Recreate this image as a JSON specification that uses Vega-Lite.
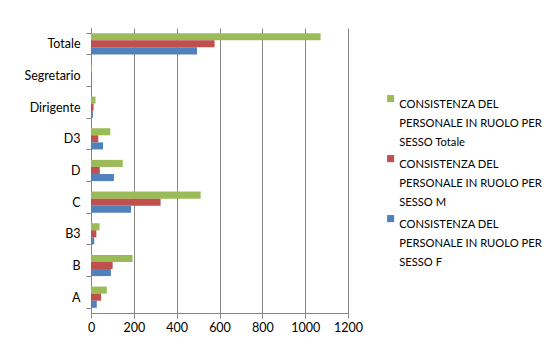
{
  "$schema": "https://vega.github.io/schema/vega-lite/v6.json",
  "autosize": "none",
  "width": 257,
  "height": 285,
  "padding": {"left": 91, "top": 28, "right": 204, "bottom": 29},
  "background": "white",
  "config": {
    "font": "Lato",
    "view": {"stroke": null}
  },
  "data": {
    "values": [
      {"categoria": "Totale", "serie": "CONSISTENZA DEL|PERSONALE IN RUOLO PER|SESSO Totale", "valore": 1072},
      {"categoria": "Totale", "serie": "CONSISTENZA DEL|PERSONALE IN RUOLO PER|SESSO M", "valore": 577},
      {"categoria": "Totale", "serie": "CONSISTENZA DEL|PERSONALE IN RUOLO PER|SESSO F", "valore": 495},
      {"categoria": "Segretario", "serie": "CONSISTENZA DEL|PERSONALE IN RUOLO PER|SESSO Totale", "valore": 4},
      {"categoria": "Segretario", "serie": "CONSISTENZA DEL|PERSONALE IN RUOLO PER|SESSO M", "valore": 3},
      {"categoria": "Segretario", "serie": "CONSISTENZA DEL|PERSONALE IN RUOLO PER|SESSO F", "valore": 1},
      {"categoria": "Dirigente", "serie": "CONSISTENZA DEL|PERSONALE IN RUOLO PER|SESSO Totale", "valore": 21},
      {"categoria": "Dirigente", "serie": "CONSISTENZA DEL|PERSONALE IN RUOLO PER|SESSO M", "valore": 12},
      {"categoria": "Dirigente", "serie": "CONSISTENZA DEL|PERSONALE IN RUOLO PER|SESSO F", "valore": 9},
      {"categoria": "D3", "serie": "CONSISTENZA DEL|PERSONALE IN RUOLO PER|SESSO Totale", "valore": 90},
      {"categoria": "D3", "serie": "CONSISTENZA DEL|PERSONALE IN RUOLO PER|SESSO M", "valore": 34},
      {"categoria": "D3", "serie": "CONSISTENZA DEL|PERSONALE IN RUOLO PER|SESSO F", "valore": 56},
      {"categoria": "D", "serie": "CONSISTENZA DEL|PERSONALE IN RUOLO PER|SESSO Totale", "valore": 148},
      {"categoria": "D", "serie": "CONSISTENZA DEL|PERSONALE IN RUOLO PER|SESSO M", "valore": 41},
      {"categoria": "D", "serie": "CONSISTENZA DEL|PERSONALE IN RUOLO PER|SESSO F", "valore": 107},
      {"categoria": "C", "serie": "CONSISTENZA DEL|PERSONALE IN RUOLO PER|SESSO Totale", "valore": 512},
      {"categoria": "C", "serie": "CONSISTENZA DEL|PERSONALE IN RUOLO PER|SESSO M", "valore": 325},
      {"categoria": "C", "serie": "CONSISTENZA DEL|PERSONALE IN RUOLO PER|SESSO F", "valore": 187},
      {"categoria": "B3", "serie": "CONSISTENZA DEL|PERSONALE IN RUOLO PER|SESSO Totale", "valore": 40},
      {"categoria": "B3", "serie": "CONSISTENZA DEL|PERSONALE IN RUOLO PER|SESSO M", "valore": 25},
      {"categoria": "B3", "serie": "CONSISTENZA DEL|PERSONALE IN RUOLO PER|SESSO F", "valore": 15},
      {"categoria": "B", "serie": "CONSISTENZA DEL|PERSONALE IN RUOLO PER|SESSO Totale", "valore": 194},
      {"categoria": "B", "serie": "CONSISTENZA DEL|PERSONALE IN RUOLO PER|SESSO M", "valore": 101},
      {"categoria": "B", "serie": "CONSISTENZA DEL|PERSONALE IN RUOLO PER|SESSO F", "valore": 93},
      {"categoria": "A", "serie": "CONSISTENZA DEL|PERSONALE IN RUOLO PER|SESSO Totale", "valore": 74},
      {"categoria": "A", "serie": "CONSISTENZA DEL|PERSONALE IN RUOLO PER|SESSO M", "valore": 47},
      {"categoria": "A", "serie": "CONSISTENZA DEL|PERSONALE IN RUOLO PER|SESSO F", "valore": 27}
    ]
  },
  "mark": {"type": "bar"},
  "encoding": {
    "y": {
      "field": "categoria",
      "type": "nominal",
      "sort": ["Totale", "Segretario", "Dirigente", "D3", "D", "C", "B3", "B", "A"],
      "scale": {"paddingInner": 0.33, "paddingOuter": 0.165},
      "axis": {
        "title": null,
        "tickBand": "extent",
        "domainColor": "#868686",
        "tickColor": "#868686",
        "tickSize": 5,
        "labelFontSize": 12.5,
        "labelColor": "#000000",
        "labelPadding": 6,
        "grid": false
      }
    },
    "yOffset": {
      "field": "serie",
      "type": "nominal",
      "sort": [
        "CONSISTENZA DEL|PERSONALE IN RUOLO PER|SESSO Totale",
        "CONSISTENZA DEL|PERSONALE IN RUOLO PER|SESSO M",
        "CONSISTENZA DEL|PERSONALE IN RUOLO PER|SESSO F"
      ],
      "scale": {"paddingInner": 0, "paddingOuter": 0}
    },
    "x": {
      "field": "valore",
      "type": "quantitative",
      "scale": {"domain": [0, 1200], "nice": false},
      "axis": {
        "title": null,
        "values": [0, 200, 400, 600, 800, 1000, 1200],
        "format": "d",
        "gridColor": "#878787",
        "gridWidth": 1,
        "domainColor": "#868686",
        "tickColor": "#868686",
        "tickSize": 5,
        "labelFontSize": 12.5,
        "labelColor": "#000000",
        "labelPadding": 3,
        "labelFlush": false
      }
    },
    "color": {
      "field": "serie",
      "type": "nominal",
      "scale": {
        "domain": [
          "CONSISTENZA DEL|PERSONALE IN RUOLO PER|SESSO Totale",
          "CONSISTENZA DEL|PERSONALE IN RUOLO PER|SESSO M",
          "CONSISTENZA DEL|PERSONALE IN RUOLO PER|SESSO F"
        ],
        "range": ["#9BBB59", "#C0504D", "#4F81BD"]
      },
      "legend": {
        "title": null,
        "orient": "none",
        "legendX": 294,
        "legendY": 65,
        "symbolType": "square",
        "symbolSize": 50,
        "symbolStrokeWidth": 0,
        "labelExpr": "split(datum.label, '|')",
        "labelFontSize": 11.2,
        "labelColor": "#000000",
        "labelLimit": 200,
        "labelOffset": 3,
        "labelBaseline": "top",
        "rowPadding": 5,
        "encode": {
          "labels": {"update": {"lineHeight": {"value": 19}}}
        }
      }
    }
  }
}
